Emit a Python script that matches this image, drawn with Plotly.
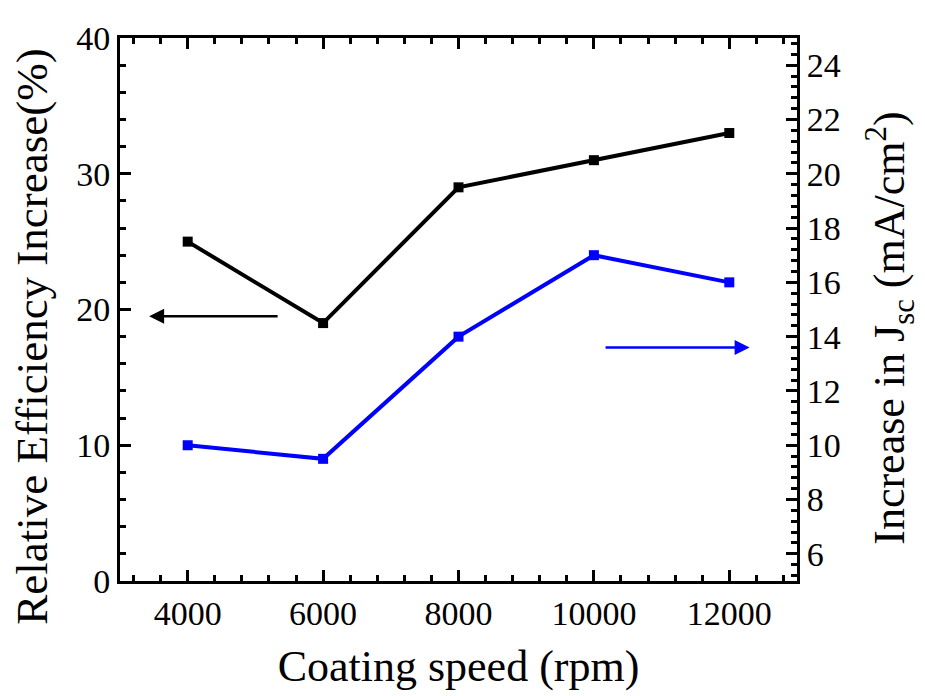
import plotly.graph_objects as go

speed = [4000, 6000, 8000, 10000, 12000]
efficiency = [25, 19, 29, 31, 33]
jsc_increase = [10, 9.5, 14, 17, 16]
speed_ticks = ["4000", "6000", "8000", "10000", "12000"]

FONT = "Liberation Serif"

fig = go.Figure()
fig.add_trace(go.Scatter(
    x=speed, y=efficiency, mode="lines+markers",
    line=dict(color="black", width=4),
    marker=dict(symbol="square", size=10, color="black"),
    showlegend=False,
))
fig.add_trace(go.Scatter(
    x=speed, y=jsc_increase, mode="lines+markers", yaxis="y2",
    line=dict(color="#0000ff", width=4),
    marker=dict(symbol="square", size=10, color="#0000ff"),
    showlegend=False,
))

# arrows pointing to each series' axis
fig.add_annotation(x=3430, y=19.5, ax=5350, ay=19.5, xref="x", yref="y",
                   axref="x", ayref="y", showarrow=True, text="",
                   arrowhead=2, arrowsize=1.2, arrowwidth=2.5, arrowcolor="black")
fig.add_annotation(x=12300, y=13.6, ax=10150, ay=13.6, xref="x", yref="y2",
                   axref="x", ayref="y2", showarrow=True, text="",
                   arrowhead=2, arrowsize=1.2, arrowwidth=2.5, arrowcolor="#0000ff")

# y titles as annotations so they can sit a little below the centre
fig.add_annotation(text="Relative Efficiency Increase(%)", textangle=-90,
                   xref="paper", yref="paper", x=-0.13, y=0.45,
                   xanchor="center", yanchor="middle", showarrow=False,
                   font=dict(family=FONT, size=45, color="black"))
fig.add_annotation(text="Increase in J<sub>sc</sub> (mA/cm<sup>2</sup>)",
                   textangle=-90, xref="paper", yref="paper", x=1.137, y=0.466,
                   xanchor="center", yanchor="middle", showarrow=False,
                   font=dict(family=FONT, size=44, color="black"))

axis_common = dict(
    showline=True, linecolor="black", linewidth=3,
    ticks="inside", ticklen=11, tickwidth=3, tickcolor="black",
    showgrid=False, zeroline=False,
    tickfont=dict(family=FONT, size=34, color="black"),
    title_font=dict(family=FONT, size=44, color="black"),
)

fig.update_layout(
    width=925, height=696,
    margin=dict(l=112, r=136, t=19, b=123),
    plot_bgcolor="white", paper_bgcolor="white",
    font=dict(family=FONT, color="black"),
    xaxis=dict(
        range=[3000, 13000], tickvals=speed, ticktext=speed_ticks,
        mirror="ticks", title=dict(text="Coating speed (rpm)", standoff=20),
        minor=dict(dtick=400, tick0=0, ticks="inside", ticklen=6, tickwidth=3,
                   tickcolor="black"),
        **axis_common,
    ),
    yaxis=dict(
        range=[0, 40], dtick=10,
        minor=dict(dtick=2, ticks="inside", ticklen=6, tickwidth=3,
                   tickcolor="black"),
        **axis_common,
    ),
    yaxis2=dict(
        range=[5, 25], dtick=2, tick0=0, overlaying="y", side="right",
        minor=dict(dtick=0.4, tick0=0, ticks="inside", ticklen=6, tickwidth=3,
                   tickcolor="black"),
        **axis_common,
    ),
)

fig.write_html("out.html")
